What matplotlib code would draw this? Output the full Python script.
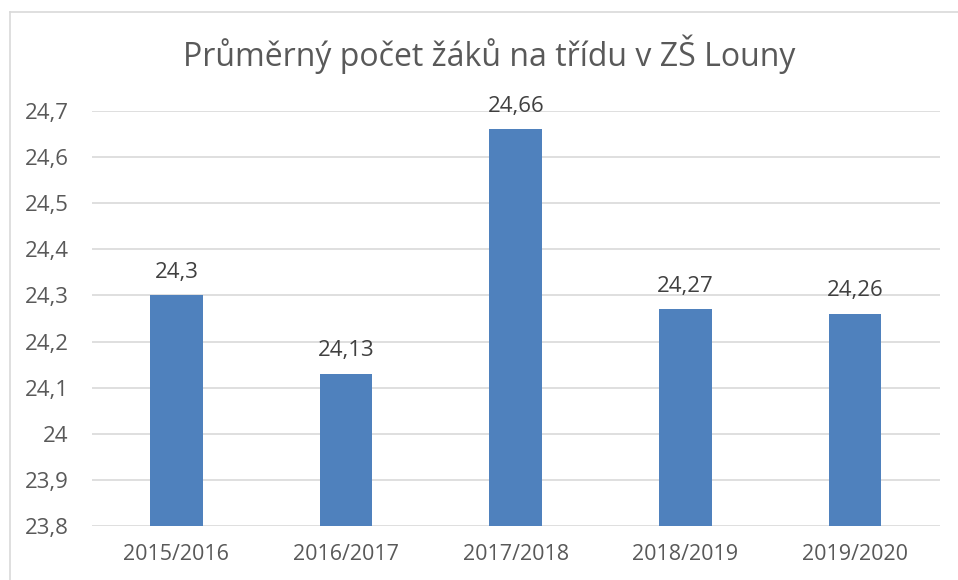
import matplotlib
matplotlib.use('Agg')
import matplotlib.pyplot as plt
from matplotlib.lines import Line2D

# data
years = ['2015/2016', '2016/2017', '2017/2018', '2018/2019', '2019/2020']
values = [24.3, 24.13, 24.66, 24.27, 24.26]
yticks = [23.8, 23.9, 24.0, 24.1, 24.2, 24.3, 24.4, 24.5, 24.6, 24.7]
ytick_labels = ['23,8', '23,9', '24', '24,1', '24,2', '24,3', '24,4', '24,5', '24,6', '24,7']

plt.rcParams['font.family'] = ['Open Sans', 'DejaVu Sans']
text_color = '#595959'
grid_color = '#D9D9D9'

fig = plt.figure(figsize=(9.58, 5.80), dpi=100)
ax = fig.add_axes([0.0956, 0.0931, 0.8856, 0.7155])

x = list(range(len(years)))
ax.bar(x, values, width=0.31, color='#4F81BD', zorder=3)
for xi, v in zip(x, values):
    ax.annotate(f'{v:g}'.replace('.', ','), (xi, v), xytext=(0, 9),
                textcoords='offset points', ha='center', va='bottom',
                fontsize=16, color='#404040')

ax.set_xlim(-0.5, len(years) - 0.5)
ax.set_ylim(23.8, 24.7)
ax.set_yticks(yticks)
ax.set_yticklabels(ytick_labels)
ax.set_xticks(x)
ax.set_xticklabels(years)
ax.tick_params(axis='both', length=0, colors=text_color)
ax.tick_params(axis='y', pad=16.5, labelsize=16)
ax.tick_params(axis='x', pad=13, labelsize=15.5)
ax.grid(axis='y', color=grid_color, linewidth=1.2, zorder=0)
for s in ax.spines.values():
    s.set_visible(False)

fig.suptitle('Průměrný počet žáků na třídu v ZŠ Louny', x=0.511, y=0.94,
             fontsize=23, color=text_color)

# chart area frame (left and top edges visible)
fig.add_artist(Line2D([10 / 958, 10 / 958], [0, 1 - 12 / 580],
                      transform=fig.transFigure, color=grid_color, linewidth=1.2))
fig.add_artist(Line2D([10 / 958, 1], [1 - 12 / 580, 1 - 12 / 580],
                      transform=fig.transFigure, color=grid_color, linewidth=1.2))

fig.savefig('out.png', dpi=100)
